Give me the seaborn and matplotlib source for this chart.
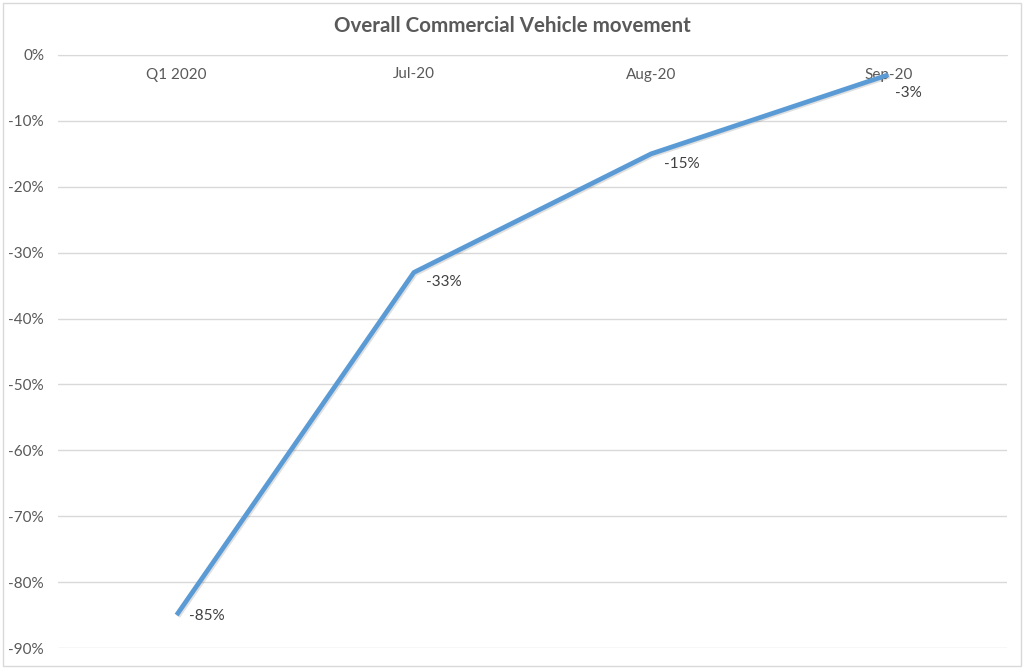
import matplotlib
matplotlib.use("Agg")
import matplotlib.pyplot as plt
import matplotlib.patheffects as pe
import seaborn as sns
import pandas as pd
from matplotlib.ticker import FuncFormatter

categories = ["Q1 2020", "Jul-20", "Aug-20", "Sep-20"]
values = [-0.85, -0.33, -0.15, -0.03]
value_labels = ["-85%", "-33%", "-15%", "-3%"]
yticks = [0, -0.1, -0.2, -0.3, -0.4, -0.5, -0.6, -0.7, -0.8, -0.9]

sns.set_style("white")
plt.rcParams['font.family'] = ['Lato', 'DejaVu Sans']

df = pd.DataFrame({"x": range(len(categories)), "y": values})

fig = plt.figure(figsize=(10.24, 6.69), dpi=100)
ax = fig.add_axes([58/1024, 21/669, (1007-58)/1024, (614-21)/669])

sns.lineplot(data=df, x="x", y="y", ax=ax, color="#5B9BD5", linewidth=3.4,
             solid_capstyle="butt",
             path_effects=[pe.SimpleLineShadow(offset=(1, -1), alpha=0.12), pe.Normal()])

ax.set_xlim(-0.5, 3.5)
ax.set_ylim(-0.9, 0)
ax.set_yticks(yticks)
ax.yaxis.set_major_formatter(FuncFormatter(lambda v, p: f"{v*100:.0f}%"))
ax.set_xticks(range(len(categories)))
ax.set_xticklabels(categories)
ax.grid(axis="y", color="#D9D9D9", linewidth=1)
ax.set_axisbelow(True)
for s in ["top", "right", "left"]:
    ax.spines[s].set_visible(False)
ax.spines["bottom"].set_position(("data", 0))
ax.spines["bottom"].set_color("#D9D9D9")
ax.tick_params(axis="both", length=0, labelsize=11, labelcolor="#595959")
ax.tick_params(axis="x", pad=9)
ax.tick_params(axis="y", pad=10)
ax.set_xlabel("")
ax.set_ylabel("")

offsets = [(9, -1), (9, -7), (9, -7), (5, -13)]
for i, (v, lab) in enumerate(zip(values, value_labels)):
    ax.annotate(lab, (i, v), xytext=offsets[i], textcoords="offset points",
                ha="left", va="center", fontsize=11, color="#404040")

fig.text(0.5, 1 - 26/669, "Overall Commercial Vehicle movement", ha="center", va="center",
         fontsize=14.8, fontweight="bold", color="#595959")

border = plt.Rectangle((3/1024, 3/669), 1 - 6/1024, 1 - 6/669, transform=fig.transFigure,
                       fill=False, edgecolor="#D9D9D9", linewidth=1)
fig.patches.append(border)

fig.savefig("out.png", dpi=100, facecolor="white")
